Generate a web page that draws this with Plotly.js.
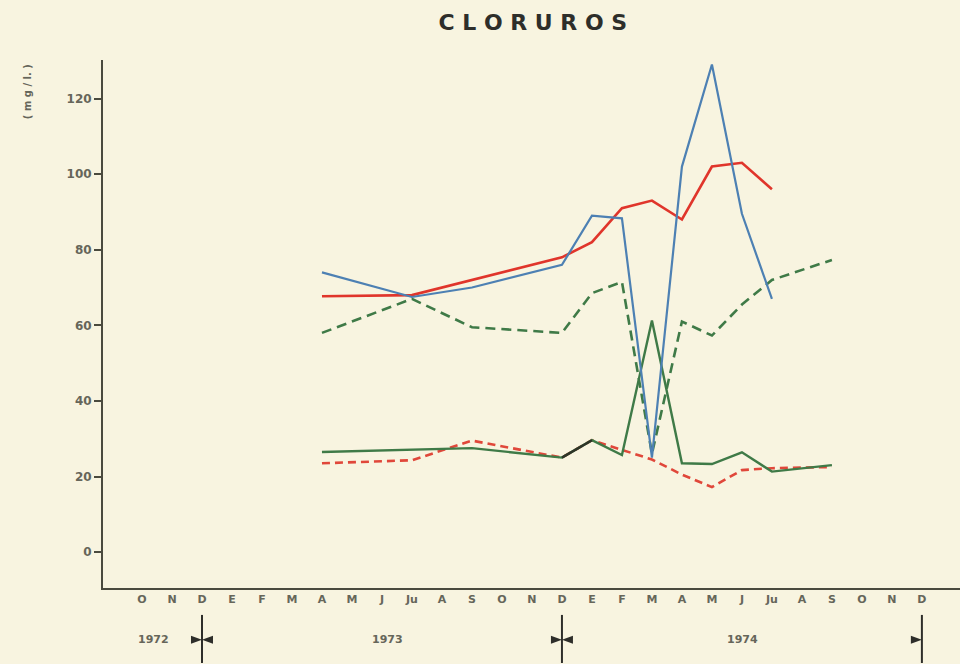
<!DOCTYPE html>
<html>
<head>
<meta charset="utf-8">
<script src="https://cdn.plot.ly/plotly-3.0.1.min.js"></script>
<style>html,body{margin:0;padding:0;background:#f8f4e0;}#chart{width:960px;height:664px;}</style>
</head>
<body>
<div id="chart"></div>
<script>
// Month index: 0 = O (Oct 1972) ... 26 = D (Dec 1974)
const monthLabels = ["O","N","D","E","F","M","A","M","J","Ju","A","S","O","N","D","E","F","M","A","M","J","Ju","A","S","O","N","D"];
const monthIndex = monthLabels.map((_, i) => i);

const yearLabels = ["1972", "1973", "1974"];
const yearPos = [0.37, 8.17, 20.03];
const yearBreaks = [2, 14, 26];

const yTickVals = [0, 20, 40, 60, 80, 100, 120];
const yTickText = ["0", "20", "40", "60", "80", "100", "120"];

const blueX = [6, 9, 11, 14, 15, 16, 17, 18, 19, 20, 21];
const blueY = [74, 67.5, 70, 76, 89, 88.3, 25, 102, 129, 89.5, 67];

const redX = [6, 9, 14, 15, 16, 17, 18, 19, 20, 21];
const redY = [67.7, 68, 78, 82, 91, 93, 88, 102, 103, 96];

const greenDashX = [6, 9, 11, 14, 15, 16, 17, 18, 19, 20, 21, 23];
const greenDashY = [58, 67, 59.5, 58, 68.5, 71.5, 26, 61, 57.3, 65.5, 72, 77.3];

const greenX = [6, 9, 11, 14, 15, 16, 17, 18, 19, 20, 21, 23];
const greenY = [26.5, 27, 27.5, 25, 29.6, 25.7, 61.3, 23.5, 23.3, 26.4, 21.3, 23];

const redDashX = [6, 9, 11, 14, 15, 16, 17, 18, 19, 20, 21, 23];
const redDashY = [23.5, 24.3, 29.5, 25, 29.6, 27, 24.5, 20.5, 17.2, 21.7, 22.2, 22.5];

const overlapX = [14, 15];
const overlapY = [25, 29.6];

const labelFont = {family: 'DejaVu Sans, sans-serif', color: '#66665a', weight: 'bold'};

const traces = [
  {x: greenDashX, y: greenDashY, mode: 'lines', line: {color: '#3f7a47', width: 2.6, dash: '10px,6px'}, hoverinfo: 'skip'},
  {x: redDashX, y: redDashY, mode: 'lines', line: {color: '#e0473a', width: 2.6, dash: '8px,5px'}, hoverinfo: 'skip'},
  {x: greenX, y: greenY, mode: 'lines', line: {color: '#3f7a47', width: 2.4}, hoverinfo: 'skip'},
  {x: overlapX, y: overlapY, mode: 'lines', line: {color: '#2e3428', width: 2.4}, hoverinfo: 'skip'},
  {x: redX, y: redY, mode: 'lines', line: {color: '#e0352b', width: 2.6}, hoverinfo: 'skip'},
  {x: blueX, y: blueY, mode: 'lines', line: {color: '#4d80b3', width: 2.2}, hoverinfo: 'skip'}
];

const shapes = [];
yearBreaks.forEach((xb, i) => {
  shapes.push({type: 'line', xref: 'x', yref: 'paper', x0: xb, x1: xb, y0: -0.051, y1: -0.142,
    line: {color: '#2e2e2a', width: 2}});
  const path = (i < yearBreaks.length - 1)
    ? 'M-11,-4 L-11,4 L0,0 Z M11,-4 L11,4 L0,0 Z'
    : 'M-11,-4 L-11,4 L0,0 Z';
  shapes.push({type: 'path', xref: 'x', yref: 'paper', xsizemode: 'pixel', ysizemode: 'pixel',
    xanchor: xb, yanchor: -0.098, path: path, fillcolor: '#2e2e2a', line: {width: 0}});
});

const annotations = yearLabels.map((t, i) => ({
  text: t, x: yearPos[i], xref: 'x', y: -0.098, yref: 'paper', showarrow: false,
  xanchor: 'center', yanchor: 'middle',
  font: Object.assign({size: 11}, labelFont)
}));
annotations.push({
  text: '( m g / l. )', x: -0.0887, xref: 'paper', y: 0.941, yref: 'paper', showarrow: false,
  textangle: -90, xanchor: 'center', yanchor: 'middle',
  font: Object.assign({size: 10}, labelFont)
});

const layout = {
  width: 960, height: 664,
  paper_bgcolor: '#f8f4e0', plot_bgcolor: '#f8f4e0',
  margin: {l: 103, r: 0, t: 60, b: 76},
  showlegend: false,
  title: {text: 'C L O R U R O S', x: 0.555, xanchor: 'center', xref: 'container', y: 0.967, yanchor: 'middle',
    font: {family: 'DejaVu Sans, sans-serif', size: 22, color: '#2e2e2a', weight: 'bold'}},
  xaxis: {
    range: [-1.3, 27.27], showgrid: false, zeroline: false,
    showline: true, linecolor: '#4a4a3e', linewidth: 2, mirror: false,
    tickmode: 'array', tickvals: monthIndex, ticktext: monthLabels, ticks: '',
    tickfont: Object.assign({size: 11}, labelFont),
    fixedrange: true
  },
  yaxis: {
    range: [-9.5, 130.2], showgrid: false, zeroline: false,
    showline: true, linecolor: '#4a4a3e', linewidth: 2,
    tickmode: 'array', tickvals: yTickVals, ticktext: yTickText,
    ticks: 'outside', ticklen: 7, tickwidth: 2, tickcolor: '#4a4a3e',
    tickfont: Object.assign({size: 12}, labelFont),
    fixedrange: true
  },
  shapes: shapes,
  annotations: annotations
};

Plotly.newPlot('chart', traces, layout, {staticPlot: true});
</script>
</body>
</html>
